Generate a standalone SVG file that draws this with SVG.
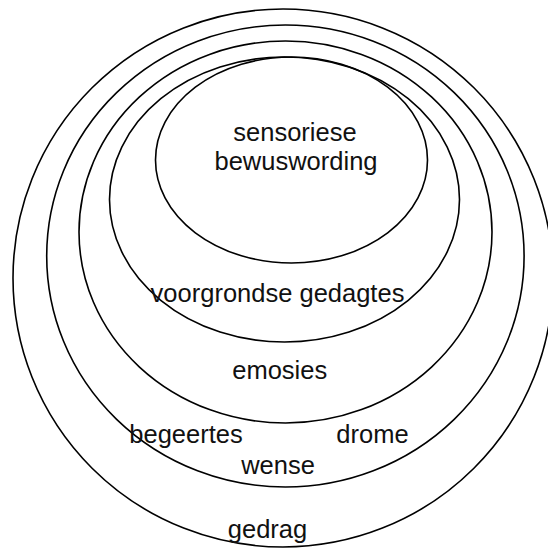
<svg xmlns="http://www.w3.org/2000/svg" width="548" height="550" viewBox="0 0 548 550">
<style>
.ring{fill:none;stroke:#000;stroke-width:1.6}
.lbl{font-family:"Liberation Sans",Arial,sans-serif;font-size:25.5px;fill:#111;text-anchor:middle}
</style>
<rect width="548" height="550" fill="#fff"/>
<g id="gedrag">
<ellipse class="ring" cx="283" cy="278" rx="270" ry="269"/>
<text class="lbl" x="267.5" y="538">gedrag</text>
</g>
<g id="wense">
<ellipse class="ring" cx="285.4" cy="256" rx="238.7" ry="231"/>
<text class="lbl" x="186" y="443">begeertes</text>
<text class="lbl" x="372.5" y="443">drome</text>
<text class="lbl" x="278" y="474">wense</text>
</g>
<g id="emosies">
<ellipse class="ring" cx="285.5" cy="232" rx="206.5" ry="191"/>
<text class="lbl" x="279.7" y="379">emosies</text>
</g>
<g id="voorgrondse">
<ellipse class="ring" cx="284.5" cy="199.5" rx="175" ry="142.5"/>
<text class="lbl" x="277.5" y="302">voorgrondse gedagtes</text>
</g>
<g id="sensoriese">
<ellipse class="ring" cx="291.5" cy="160" rx="136" ry="103"/>
<text class="lbl" x="295" y="140.5">sensoriese</text>
<text class="lbl" x="296" y="169.5">bewuswording</text>
</g>
<g id="connectors"/>
</svg>
